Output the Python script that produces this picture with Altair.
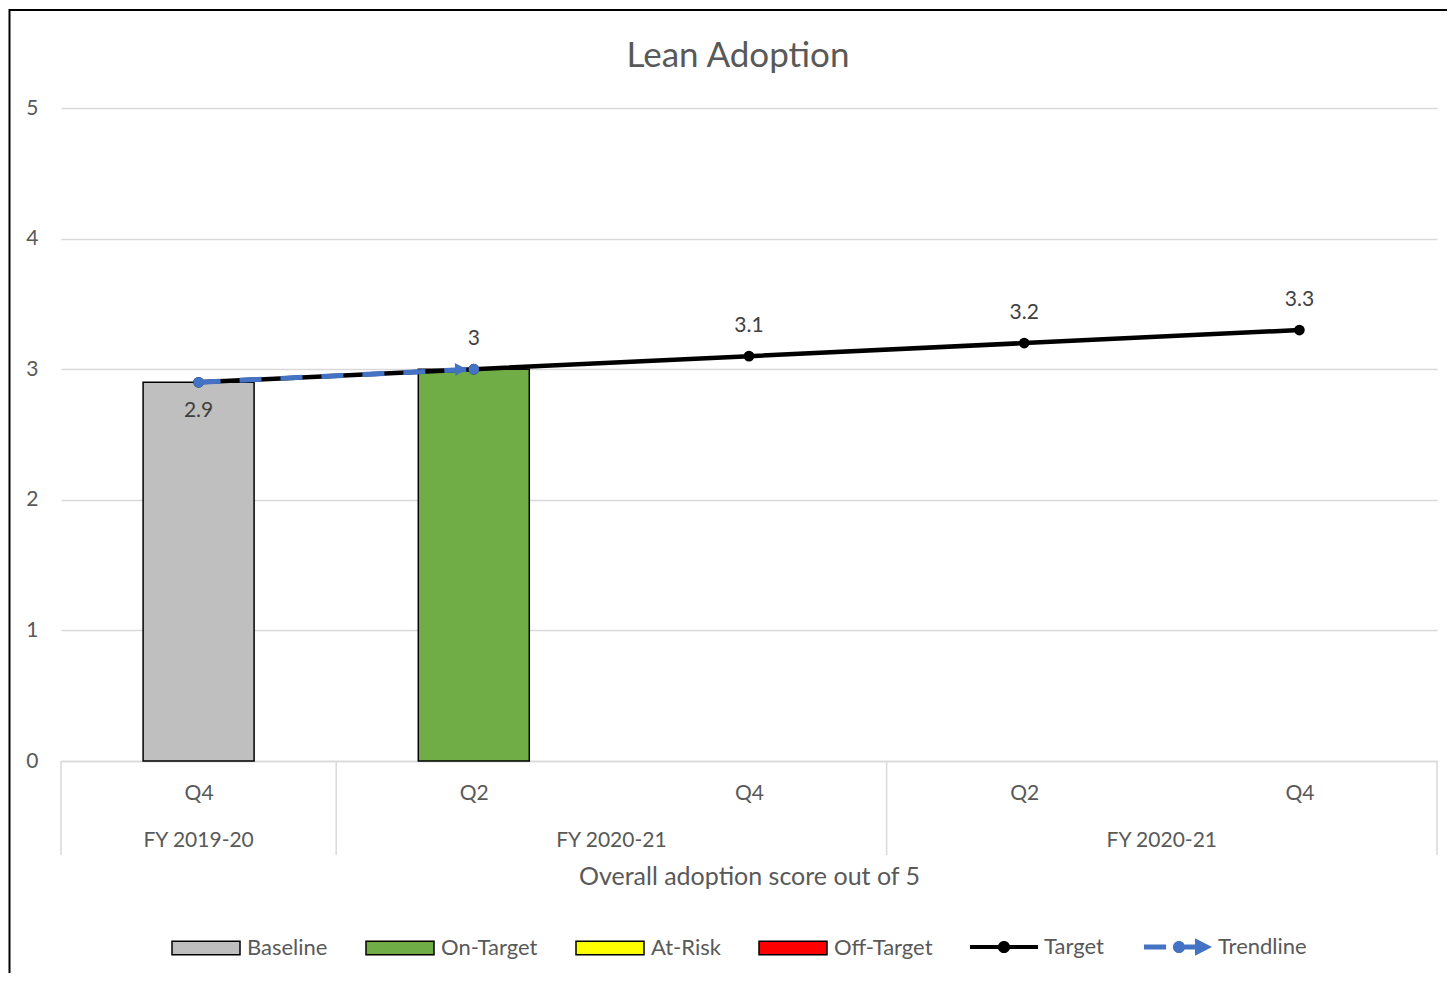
import json
import altair as alt
import pandas as pd

# ---------------- data ----------------
chart_title = "Lean Adoption"
period_index = [0, 1, 2, 3, 4]
quarters = ["Q4", "Q2", "Q4", "Q2", "Q4"]
target_values = [2.9, 3.0, 3.1, 3.2, 3.3]

fy_labels = ["FY 2019-20", "FY 2020-21", "FY 2020-21"]
fy_first = [0, 1, 3]
fy_last = [0, 2, 4]

bar_index = [0, 1]
bar_status = ["Baseline", "On-Target"]
bar_values = [2.9, 3.0]

trend_index = [0, 1]
trend_values = [2.9, 3.0]

status_names = ["Baseline", "On-Target", "At-Risk", "Off-Target"]
status_colors = ["#bfbfbf", "#70ad47", "#ffff00", "#ff0000"]
line_names = ["Target", "Trendline"]
line_colors = ["#000000", "#4472c4"]

y_ticks = [0, 1, 2, 3, 4, 5]

# ---------------- layout / style ----------------
W, H = 1376, 653
FONT = "Lato"
GREY_TXT = "#595959"
GRID = "#d9d9d9"

df_target = pd.DataFrame({"idx": period_index, "value": target_values, "q": quarters})
df_bar = pd.DataFrame({"idx": bar_index, "status": bar_status, "value": bar_values})
df_trend = pd.DataFrame({"idx": trend_index, "value": trend_values})
df_fy = pd.DataFrame({
    "label": fy_labels,
    "mid": [(a + b) / 2 for a, b in zip(fy_first, fy_last)],
})
bounds = [f - 0.5 for f in fy_first] + [fy_last[-1] + 0.5]
df_sep = pd.DataFrame({"b": bounds})
df_legend = pd.DataFrame({"series": line_names})
df_title = pd.DataFrame({"t": [chart_title]})

x_scale = alt.Scale(domain=[-0.5, len(period_index) - 0.5], nice=False, zero=False, padding=0)
y_scale = alt.Scale(domain=[0, 5], nice=False)

x_axis = alt.Axis(
    values=period_index,
    labelExpr=f"{json.dumps(quarters)}[datum.value]",
    ticks=False, tickSize=0, grid=False,
    domainColor=GRID, domainWidth=1.5,
    labelFont=FONT, labelFontSize=21, labelColor=GREY_TXT, labelPadding=21,
    title="Overall adoption score out of 5",
    titleFont=FONT, titleFontSize=25, titleColor=GREY_TXT, titleFontWeight="normal",
    titleBaseline="middle", titleY=115,
)
y_axis = alt.Axis(
    values=y_ticks, domain=False, ticks=False, tickSize=0,
    gridColor=GRID, gridWidth=1.5,
    labelFont=FONT, labelFontSize=21, labelColor=GREY_TXT, labelPadding=23,
    title=None,
)

X = alt.X("idx:Q", scale=x_scale, axis=x_axis)
Y = alt.Y("value:Q", scale=y_scale, axis=y_axis)

bar_swatch = "M-1,-0.2H1V0.2H-1Z"
target_sym = ("M-1,-0.06H-0.12V0.06H-1Z M0.12,-0.06H1V0.06H0.12Z "
              "M-0.18,0A0.18,0.18 0 1,1 0.18,0A0.18,0.18 0 1,1 -0.18,0Z")
trend_sym = ("M-1,-0.07H-0.35V0.07H-1Z "
             "M-0.15,0A0.18,0.18 0 1,1 0.21,0A0.18,0.18 0 1,1 -0.15,0Z "
             "M0.2,-0.07H0.52V0.07H0.2Z M0.5,-0.26L1,0L0.5,0.26Z")

legend_common = dict(
    orient="none", direction="horizontal", title=None,
    labelFont=FONT, labelFontSize=22, labelColor=GREY_TXT, labelOffset=6,
    symbolSize=4624,
)

legend_bars = alt.Legend(
    legendX=110, legendY=805, columns=4, columnPadding=35,
    symbolType=bar_swatch, symbolStrokeColor="black", symbolStrokeWidth=1.5,
    **legend_common,
)
legend_lines = alt.Legend(
    legendX=909, legendY=805, columns=2, columnPadding=40, symbolStrokeWidth=0,
    **legend_common,
)

bars = alt.Chart(df_bar).mark_bar(size=111, stroke="black", strokeWidth=1.5).encode(
    x=X, y=Y,
    fill=alt.Fill("status:N", scale=alt.Scale(domain=status_names, range=status_colors),
                  legend=legend_bars),
)

target_line = alt.Chart(df_target).mark_line(color="black", strokeWidth=4.5).encode(x=X, y=Y)
target_pts = alt.Chart(df_target).mark_circle(color="black", size=115, opacity=1).encode(x=X, y=Y)

trend_line = alt.Chart(df_trend).mark_line(
    color="#4472c4", strokeWidth=5, strokeDash=[22, 19]).encode(x=X, y=Y)
trend_pts = alt.Chart(df_trend).mark_circle(color="#4472c4", size=115, opacity=1).encode(x=X, y=Y)
trend_arrow = alt.Chart(df_trend).transform_filter(
    f"datum.idx == {trend_index[-1]}"
).mark_point(shape="triangle-right", filled=True, color="#4472c4", size=170,
             opacity=1, xOffset=-13, angle=357.3).encode(x=X, y=Y)

lbl_below = alt.Chart(df_target).transform_filter("datum.idx == 0").mark_text(
    font=FONT, fontSize=21, color="#404040", dy=29).encode(
    x=X, y=Y, text=alt.Text("value:Q", format="~g"))
lbl_above = alt.Chart(df_target).transform_filter("datum.idx > 0").mark_text(
    font=FONT, fontSize=21, color="#404040", dy=-30).encode(
    x=X, y=Y, text=alt.Text("value:Q", format="~g"))

fy_text = alt.Chart(df_fy).mark_text(
    font=FONT, fontSize=21, color=GREY_TXT, baseline="middle").encode(
    x=alt.X("mid:Q", scale=x_scale), y=alt.value(H + 80), text="label:N")

separators = alt.Chart(df_sep).mark_rule(color=GRID, strokeWidth=1.5).encode(
    x=alt.X("b:Q", scale=x_scale), y=alt.value(H), y2=alt.value(H + 94))

legend_layer = alt.Chart(df_legend).transform_filter("false").mark_point(
    filled=True, opacity=1, strokeWidth=0).encode(
    color=alt.Color("series:N", scale=alt.Scale(domain=line_names, range=line_colors),
                    legend=legend_lines),
    shape=alt.Shape("series:N", scale=alt.Scale(domain=line_names, range=[target_sym, trend_sym]),
                    legend=legend_lines),
)

title_text = alt.Chart(df_title).mark_text(
    font=FONT, fontSize=35, color=GREY_TXT, baseline="middle", align="center").encode(
    x=alt.value(W / 2 - 11), y=alt.value(-52), text="t:N")

frame = alt.Chart(pd.DataFrame({"f": [0]})).mark_rect(
    fillOpacity=0, stroke="black", strokeWidth=2).encode(
    x=alt.value(-51.5), x2=alt.value(W + 60), y=alt.value(-98), y2=alt.value(H + 260))

chart = alt.layer(
    frame, title_text, separators, bars, target_line, target_pts, trend_line, trend_pts,
    trend_arrow, lbl_below, lbl_above, fy_text, legend_layer,
).properties(
    width=W, height=H,
    autosize=alt.AutoSizeParams(type="none"),
    padding={"left": 53, "top": 100, "right": 10, "bottom": 212},
    background="white",
).configure_view(strokeWidth=0)

chart.save("out.html", embed_options={"renderer": "svg", "actions": False})
